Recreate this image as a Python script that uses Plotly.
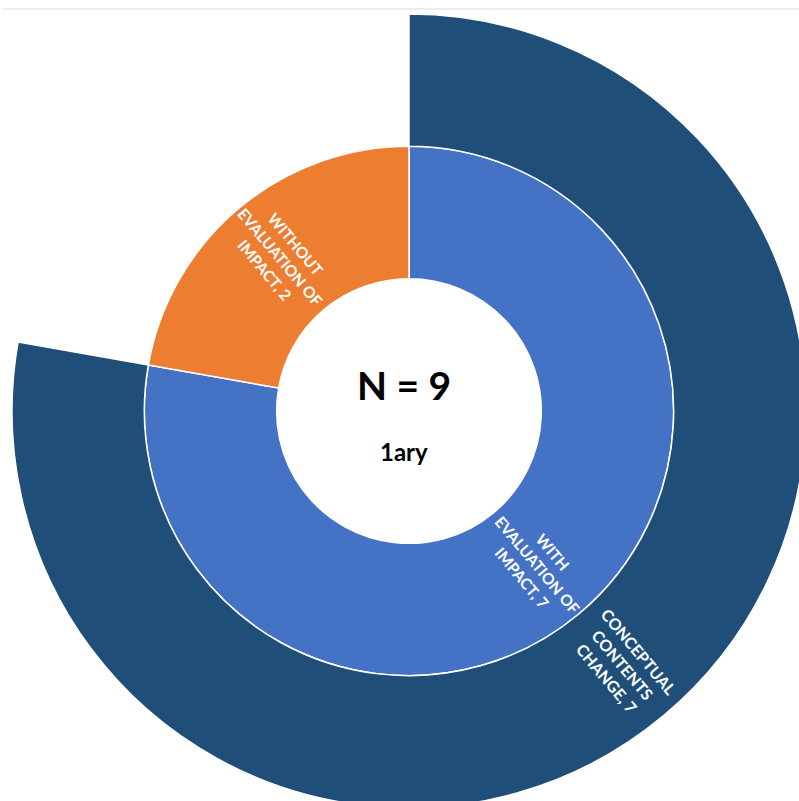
import math
import plotly.graph_objects as go

# Data
ids = ["root", "with", "without", "concept"]
labels = ["", "WITH<br>EVALUATION OF<br>IMPACT", "WITHOUT<br>EVALUATION OF<br>IMPACT", "CONCEPTUAL<br>CONTENTS<br>CHANGE"]
parents = ["", "root", "root", "with"]
values = [9, 7, 2, 7]
colors = ["#FFFFFF", "#4472C4", "#ED7D31", "#1F4E79"]
center_title = "N = 9"
center_sub = "1ary"

W, H = 820, 820
cx, cy, R = 409, 411, 397
ring = R / 3.0

fig = go.Figure(go.Sunburst(
    ids=ids,
    labels=labels,
    parents=parents,
    values=values,
    branchvalues="total",
    sort=False,
    rotation=170,
    marker=dict(colors=colors, line=dict(color="white", width=1.5)),
    leaf=dict(opacity=1),
    texttemplate=["", "", "", ""],
    hoverinfo="none",
    domain=dict(x=[(cx - R) / W, (cx + R) / W], y=[1 - (cy + R) / H, 1 - (cy - R) / H]),
))

# label placement computed from the values (start at 12 o'clock, clockwise)
total = values[0]
start = {"root": 90.0}
span = {"root": 360.0}
depth = {"root": 0}
cursor = {"root": 90.0}
for i, node in enumerate(ids):
    if parents[i] == "":
        continue
    p = parents[i]
    c = cursor.get(p, start[p])
    sp = 360.0 * values[i] / total
    start[node] = c
    span[node] = sp
    cursor[p] = c - sp
    cursor[node] = c
    depth[node] = depth[p] + 1

font_sizes = {"with": 15.5, "without": 15.5, "concept": 16}
for i, node in enumerate(ids):
    if parents[i] == "":
        continue
    mid = start[node] - span[node] / 2.0
    r = ring * (depth[node] + 0.5) + 2
    x = cx + r * math.cos(math.radians(mid))
    y = cy - r * math.sin(math.radians(mid))
    ang = -mid
    while ang > 90:
        ang -= 180
    while ang < -90:
        ang += 180
    fig.add_annotation(x=x / W, y=1 - y / H, xref="paper", yref="paper",
                       text="<b>" + labels[i] + ", " + str(values[i]) + "</b>",
                       showarrow=False, textangle=ang, align="center",
                       xanchor="center", yanchor="middle",
                       font=dict(family="Lato", size=font_sizes[node], color="white"))

fig.add_annotation(x=404 / W, y=1 - 385 / H, xref="paper", yref="paper",
                   text="<b>" + center_title + "</b>", showarrow=False,
                   font=dict(family="Lato", size=39, color="black"))
fig.add_annotation(x=404 / W, y=1 - 451 / H, xref="paper", yref="paper",
                   text="<b>" + center_sub + "</b>", showarrow=False,
                   font=dict(family="Lato", size=24, color="black"))

fig.add_shape(type="line", xref="paper", yref="paper",
              x0=3 / W, x1=1, y0=1 - 9 / H, y1=1 - 9 / H,
              line=dict(color="#D9D9D9", width=1))

fig.update_layout(
    width=W, height=H,
    margin=dict(l=0, r=0, t=0, b=0),
    paper_bgcolor="white",
    showlegend=False,
)

fig.write_html("out.html", post_script="document.body.style.margin='0';document.body.style.overflow='hidden';document.documentElement.style.overflow='hidden';")
